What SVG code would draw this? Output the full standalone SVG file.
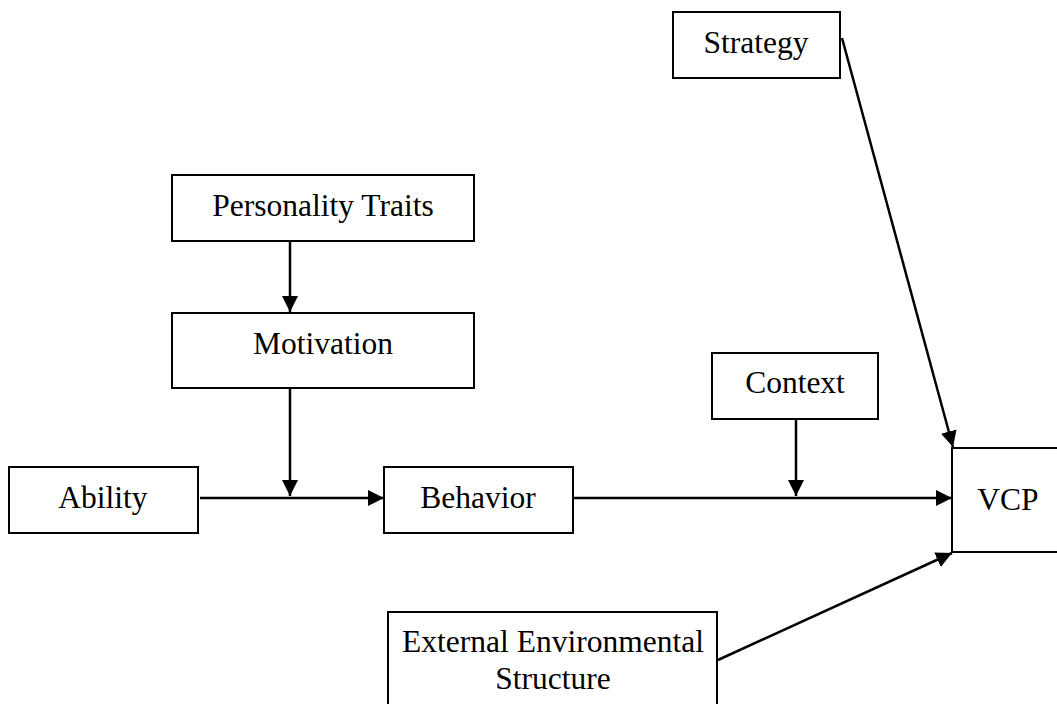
<svg xmlns="http://www.w3.org/2000/svg" width="1057" height="704" viewBox="0 0 1057 704">
  <style>
    .box { fill: #ffffff; stroke: #000000; stroke-width: 2; }
    .lbl { font-family: "Liberation Serif", "Times New Roman", serif; font-size: 31.5px; fill: #000000; text-anchor: middle; }
    .edge { stroke: #000000; stroke-width: 2.5; fill: none; }
    .arr { marker-end: url(#head); }
  </style>
  <defs>
    <marker id="head" markerUnits="userSpaceOnUse" markerWidth="16" markerHeight="16" viewBox="0 0 16 16" refX="16" refY="8" orient="auto">
      <path d="M0,0 L16,8 L0,16 Z" fill="#000000"/>
    </marker>
  </defs>

  <rect width="1057" height="704" fill="#ffffff"/>

  <g id="strategy">
    <rect class="box" x="673" y="12" width="167" height="66"/>
    <text class="lbl" x="756" y="53">Strategy</text>
  </g>

  <g id="personality-traits">
    <rect class="box" x="172" y="175" width="302" height="66"/>
    <text class="lbl" x="323" y="216">Personality Traits</text>
  </g>

  <g id="motivation">
    <rect class="box" x="172" y="313" width="302" height="75"/>
    <text class="lbl" x="323" y="354">Motivation</text>
  </g>

  <g id="ability">
    <rect class="box" x="9" y="467" width="189" height="66"/>
    <text class="lbl" x="103" y="508">Ability</text>
  </g>

  <g id="behavior">
    <rect class="box" x="384" y="467" width="189" height="66"/>
    <text class="lbl" x="478" y="508">Behavior</text>
  </g>

  <g id="context">
    <rect class="box" x="712" y="353" width="166" height="66"/>
    <text class="lbl" x="795" y="393">Context</text>
  </g>

  <g id="vcp">
    <rect class="box" x="952" y="448" width="120" height="104"/>
    <text class="lbl" x="1008" y="510">VCP</text>
  </g>

  <g id="external-environmental-structure">
    <rect class="box" x="388" y="612" width="329" height="110"/>
    <text class="lbl" x="553" y="652">External Environmental</text>
    <text class="lbl" x="553" y="689">Structure</text>
  </g>

  <g id="connectors">
    <line class="edge arr" x1="290" y1="241" x2="290" y2="312"/>
    <line class="edge arr" x1="290" y1="388" x2="290" y2="496"/>
    <line class="edge arr" x1="200" y1="498" x2="384" y2="498"/>
    <line class="edge arr" x1="796" y1="419" x2="796" y2="496"/>
    <line class="edge arr" x1="574" y1="498" x2="952" y2="498"/>
    <line class="edge arr" x1="842" y1="38" x2="953" y2="447"/>
    <line class="edge arr" x1="718" y1="660" x2="952" y2="553"/>
  </g>
</svg>
